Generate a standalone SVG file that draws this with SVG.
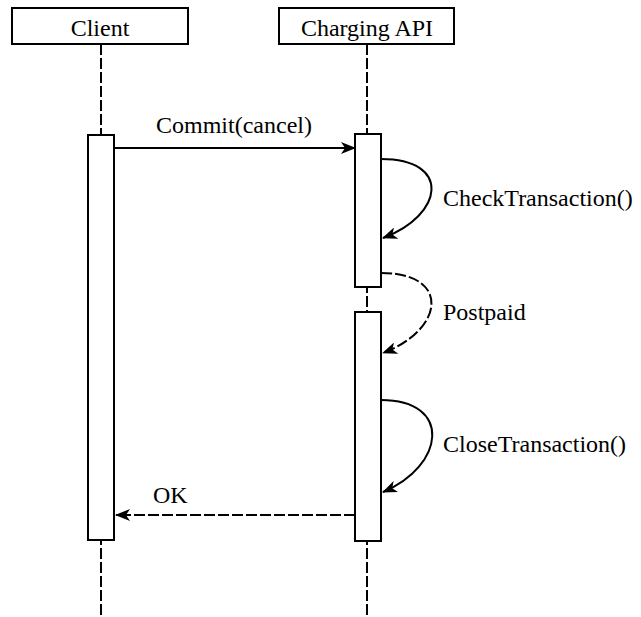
<svg xmlns="http://www.w3.org/2000/svg" width="641" height="617" viewBox="0 0 641 617">
<style>
.box{fill:#fff;stroke:#000;stroke-width:2}
.life{fill:none;stroke:#000;stroke-width:2;stroke-dasharray:11 3}
.msg{fill:none;stroke:#000;stroke-width:2}
.dash{stroke-dasharray:11 3}
.t{font-family:"Liberation Serif","Times New Roman",serif;font-size:24px;fill:#000}
</style>
<defs>
<marker id="ah" markerUnits="userSpaceOnUse" markerWidth="16" markerHeight="12" refX="14" refY="6" orient="auto">
<path d="M0,0 L15,6 L0,12 L4,6 z" fill="#000"/>
</marker>
</defs>
<g id="client">
<line class="life" x1="101" y1="44" x2="101" y2="617"/>
<rect class="box" x="12" y="8" width="176" height="36"/>
<text class="t" x="100" y="36" text-anchor="middle">Client</text>
<rect class="box" x="88" y="135" width="26" height="405"/>
</g>
<g id="charging-api">
<line class="life" x1="367" y1="44" x2="367" y2="617"/>
<rect class="box" x="279" y="8" width="175" height="36"/>
<text class="t" x="367" y="36" text-anchor="middle">Charging API</text>
<rect class="box" x="355" y="134" width="26" height="153"/>
<rect class="box" x="355" y="312" width="26" height="229"/>
</g>
<g id="connectors">
<line class="msg" x1="114" y1="148" x2="355" y2="148" marker-end="url(#ah)"/>
<text class="t" x="234" y="133" text-anchor="middle">Commit(cancel)</text>
<path class="msg" d="M381,159 C452,159 444,215 383,238" marker-end="url(#ah)"/>
<text class="t" x="443" y="206">CheckTransaction()</text>
<path class="msg dash" d="M381,273 C452,273 444,330 383,353" marker-end="url(#ah)"/>
<text class="t" x="443" y="320">Postpaid</text>
<path class="msg" d="M381,400 C453,400 445,466 383,492" marker-end="url(#ah)"/>
<text class="t" x="443" y="452">CloseTransaction()</text>
<line class="msg dash" x1="355" y1="515" x2="116" y2="515" marker-end="url(#ah)"/>
<text class="t" x="153" y="503">OK</text>
</g>
</svg>
